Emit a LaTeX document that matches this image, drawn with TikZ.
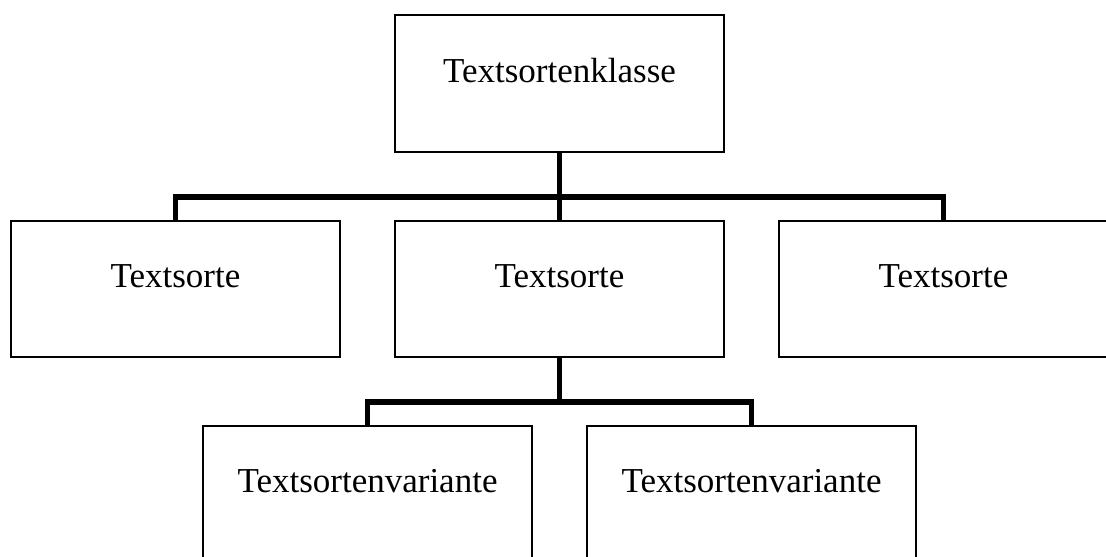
\documentclass[tikz,border=0pt]{standalone}
\usepackage{fontspec}
\setmainfont{Liberation Serif}
\begin{document}
\begin{tikzpicture}[x=1pt,y=-1pt,
  box/.style={draw=black,line width=1.6pt,fill=white,rectangle,anchor=north west,
    minimum width=329pt,inner xsep=0pt,inner ysep=0pt,outer sep=0pt,
    text height=66pt,text depth=70pt,
    font=\fontsize{35}{41}\selectfont},
  conn/.style={draw=black,line width=5.5pt,line join=miter}]
\useasboundingbox (0,0) rectangle (1106,557);
\clip (0,0) rectangle (1106,557);
\fill[white] (0,0) rectangle (1106,557);
% nodes
\node[box,text height=67pt] (top) at (395,15) {Textsortenklasse};
\node[box] (ts1) at (11,221) {Textsorte};
\node[box] (ts2) at (395,221) {Textsorte};
\node[box] (ts3) at (779,221) {Textsorte};
\node[box] (tv1) at (203,426) {Textsortenvariante};
\node[box] (tv2) at (587,426) {Textsortenvariante};
% bus coordinates
\coordinate (bus1) at (559.5,197);
\coordinate (bus2) at (559.5,402);
% connectors
\draw[conn] (top.south) -- (bus1);
\draw[conn] (ts1.north) |- (bus1);
\draw[conn] (ts3.north) |- (bus1);
\draw[conn] (bus1) -- (ts2.north);
\draw[conn] (ts2.south) -- (bus2);
\draw[conn] (tv1.north) |- (bus2);
\draw[conn] (tv2.north) |- (bus2);
\end{tikzpicture}
\end{document}
